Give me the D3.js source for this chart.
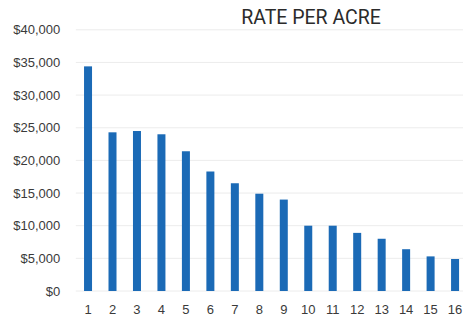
<!DOCTYPE html>
<html>
<head>
<meta charset="utf-8">
<script src="https://cdn.jsdelivr.net/npm/d3@7/dist/d3.min.js"></script>
<style>
  html, body { margin: 0; padding: 0; background: #fff; }
  svg { display: block; }
</style>
</head>
<body>
<svg id="chart" width="463" height="321"></svg>
<script>
// Rate per acre by parcel
const parcels = ["1","2","3","4","5","6","7","8","9","10","11","12","13","14","15","16"];
const ratePerAcre = [34400, 24300, 24500, 24000, 21400, 18300, 16500, 14900, 14000, 10000, 10000, 8900, 8000, 6400, 5300, 4900];
const yTicks = [0, 5000, 10000, 15000, 20000, 25000, 30000, 35000, 40000];
const chartTitle = "RATE PER ACRE";

const svg = d3.select("#chart");
const W = 463, H = 321;
const plot = { left: 75.8, right: 467.3, top: 29.8, bottom: 291 };

const x = d3.scaleBand()
  .domain(parcels)
  .range([plot.left, plot.right])
  .paddingInner(0.673)
  .paddingOuter(0.3365);

const y = d3.scaleLinear()
  .domain([0, 40000])
  .range([plot.bottom, plot.top]);

const fmt = v => "$" + d3.format(",")(v);

// horizontal gridlines
svg.append("g")
  .selectAll("line")
  .data(yTicks)
  .join("line")
  .attr("x1", plot.left)
  .attr("x2", W)
  .attr("y1", d => y(d))
  .attr("y2", d => y(d))
  .attr("stroke", "#ececec")
  .attr("stroke-width", 1);

// y axis labels
const yAxis = svg.append("g")
  .attr("transform", `translate(${plot.left},0)`)
  .call(d3.axisLeft(y).tickValues(yTicks).tickFormat(fmt).tickSize(0).tickPadding(15.5));
yAxis.select(".domain").remove();
yAxis.selectAll("text")
  .attr("font-family", "'Liberation Sans', Arial, sans-serif")
  .attr("font-size", 13)
  .attr("fill", "#3a3a3a");

// x axis labels
const xAxis = svg.append("g")
  .attr("transform", `translate(0,${plot.bottom})`)
  .call(d3.axisBottom(x).tickSize(0).tickPadding(14));
xAxis.select(".domain").remove();
xAxis.selectAll("text")
  .attr("font-family", "'Liberation Sans', Arial, sans-serif")
  .attr("font-size", 13)
  .attr("fill", "#3a3a3a");

// bars
svg.append("g")
  .selectAll("rect")
  .data(ratePerAcre)
  .join("rect")
  .attr("x", (d, i) => x(parcels[i]))
  .attr("width", x.bandwidth())
  .attr("y", d => y(d))
  .attr("height", d => y(0) - y(d))
  .attr("fill", "#1b6ab6");

// title
svg.append("text")
  .attr("x", 311)
  .attr("y", 23.5)
  .attr("text-anchor", "middle")
  .attr("font-family", "Roboto, 'Liberation Sans', sans-serif")
  .attr("font-size", 19.5)
  .attr("fill", "#2b2b2b")
  .text(chartTitle);
</script>
</body>
</html>
